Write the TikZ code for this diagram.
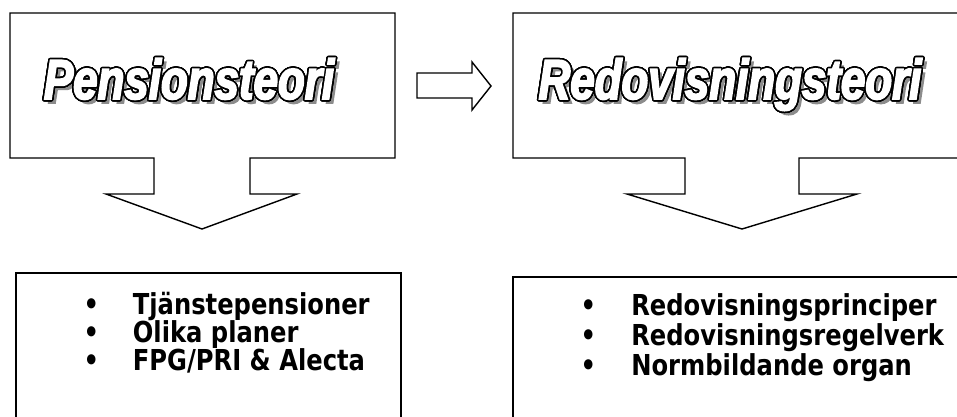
\documentclass[tikz,border=0pt]{standalone}
\usepackage{fontspec}
\usepackage{contour}
\setmainfont{Liberation Sans}
\newfontfamily\headfont[FakeStretch=0.78,BoldItalicFeatures={FakeBold=3}]{Liberation Sans}
\newfontfamily\itemfont[FakeStretch=0.84]{DejaVu Sans}
\contourlength{1.1pt}
\contournumber{32}
\definecolor{shadowgray}{HTML}{8C8C8C}
\newcommand{\outlined}[1]{{\color{white}\contour{black}{#1}}}

\begin{document}
\begin{tikzpicture}[x=0.025cm,y=-0.025cm,line width=1pt,
    headtext/.style={font=\headfont\bfseries\itshape\fontsize{40}{42}\selectfont,inner sep=0pt,anchor=base},
    headshadow/.style={headtext,text=shadowgray},
    itemtext/.style={font=\itemfont\bfseries\fontsize{20.5}{20}\selectfont,inner sep=0pt,anchor=base west}]
    \useasboundingbox (0,0) rectangle (957,416);

    % callout boxes with arrows down
    \draw[fill=white] (10,13) -- (395,13) -- (395,158) -- (250,158) -- (250,194) -- (297,194)
        -- (202,229) -- (106,194) -- (154,194) -- (154,158) -- (10,158) -- cycle;
    \draw[fill=white] (513,13) -- (965,13) -- (965,158) -- (799,158) -- (799,194) -- (857,194)
        -- (742,229) -- (627,194) -- (685,194) -- (685,158) -- (513,158) -- cycle;

    % arrow between
    \draw (417,73) -- (472,73) -- (472,62) -- (491,86) -- (472,110) -- (472,98) -- (417,98) -- cycle;

    % titles
    \node[headshadow] (pens-shadow) at (193,103) {Pensionsteori};
    \node[headtext] (pens-title) at (189,99) {\outlined{Pensionsteori}};
    \node[headshadow] (redo-shadow) at (734,103) {Redovisningsteori};
    \node[headtext] (redo-title) at (730,99) {\outlined{Redovisningsteori}};

    % lists
    \draw (16,273) rectangle (401,425);
    \draw (513,277) rectangle (965,425);
    \foreach \txt [count=\i] in {Tjänstepensioner,Olika planer,FPG/PRI \& Alecta}
        \node[itemtext] (pens-\i) at (83,286+28*\i) {\makebox[35pt][l]{\textbullet}\txt};
    \foreach \txt [count=\i] in {Redovisningsprinciper,Redovisningsregelverk,Normbildande organ}
        \node[itemtext] (redo-\i) at (580,285+30*\i) {\makebox[36pt][l]{\textbullet}\txt};
\end{tikzpicture}
\end{document}
